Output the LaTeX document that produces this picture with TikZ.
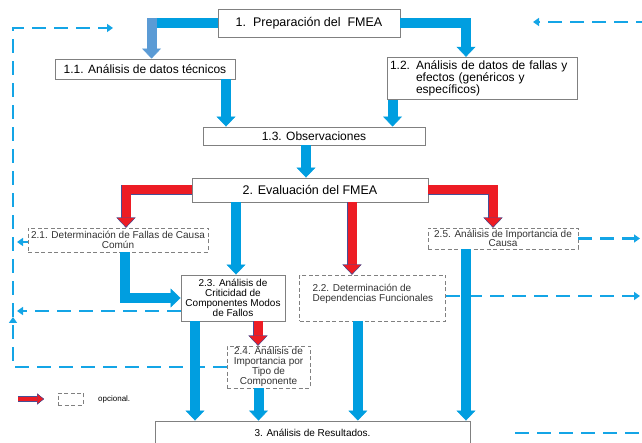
\documentclass[tikz,border=0pt]{standalone}
\usepackage{fontspec}
\setmainfont{Liberation Sans}
\usepackage{xcolor}
\usepackage{tikz}
\usetikzlibrary{arrows.meta, positioning}
\definecolor{fmea-blue}{RGB}{0, 158, 224}
\definecolor{fmea-steel}{RGB}{91, 155, 213}
\definecolor{fmea-red}{RGB}{237, 28, 36}
\definecolor{fmea-rim}{RGB}{70, 80, 150}
\definecolor{fmea-dash}{RGB}{20, 165, 230}
\definecolor{fmea-gray}{RGB}{128, 128, 128}

\begin{document}
\begin{tikzpicture}[
  x=1pt, y=1pt,
  box/.style={rectangle, draw=fmea-gray, line width=0.9pt, fill=white, align=center, inner sep=2pt, font=\fontsize{12}{13}\selectfont},
  optbox/.style={rectangle, draw=fmea-gray, line width=0.8pt, dash pattern=on 4pt off 2.5pt, fill=white, align=center, inner xsep=2pt, inner ysep=1pt, text=black!80, font=\fontsize{10}{10.2}\selectfont},
  bluebar/.style={line width=10pt, draw=fmea-blue, -{Triangle[width=19pt, length=10pt, line width=0.5pt, fill=fmea-blue]}},
  steelbar/.style={line width=10pt, draw=fmea-steel, -{Triangle[width=19pt, length=10pt, line width=0.5pt, fill=fmea-steel]}},
  redbar/.style={line width=9pt, draw=fmea-red, -{Triangle[width=19pt, length=10pt, line width=0.4pt, color=fmea-rim, fill=fmea-red]},
    preaction={draw=fmea-rim, line width=10.4pt, -{Triangle[width=19pt, length=10pt, line width=0.4pt, color=fmea-rim, fill=fmea-red]}}},
  redkey/.style={line width=4.5pt, draw=fmea-red, -{Triangle[width=11pt, length=7pt, line width=0.4pt, color=fmea-rim, fill=fmea-red]},
    preaction={draw=fmea-rim, line width=5.4pt, -{Triangle[width=11pt, length=7pt, line width=0.4pt, color=fmea-rim, fill=fmea-red]}}},
  feedback/.style={draw=fmea-dash, line width=2.5pt, dash pattern=on 14pt off 8pt},
  feedarrow/.style={feedback, -{Triangle[width=8pt, length=6pt]}}
]
  \useasboundingbox (0,0) rectangle (642,443);
  \clip (0,0) rectangle (642,443);

  \node[box, minimum width=182pt, minimum height=28pt, font=\fontsize{12.5}{14}\selectfont] (prep) at (309,420) {1.\ \ Preparación del\ \ FMEA};
  \node[box, minimum width=180pt, minimum height=20pt] (tech) at (145,374) {1.1. Análisis de datos técnicos};
  \node[box, minimum width=190pt, minimum height=37pt, text width=184pt, align=left, inner sep=3pt, font=\fontsize{12}{11}\selectfont] (fails) at (482,364.5)
    {\begin{tabular}{@{}l@{ }l@{}}1.2.&Análisis de datos de fallas y\\ &efectos (genéricos y\\ &específicos)\end{tabular}};
  \node[box, minimum width=222pt, minimum height=18pt] (obs) at (314,307) {1.3. Observaciones};
  \node[box, minimum width=236pt, minimum height=24pt, font=\fontsize{12.5}{14}\selectfont] (eval) at (310,253) {2. Evaluación del FMEA};
  \node[optbox, minimum width=180pt, minimum height=24pt] (common) at (118,203) {2.1. Determinación de Fallas de Causa\\Común};
  \node[optbox, minimum width=150pt, minimum height=21pt, font=\fontsize{10}{9.5}\selectfont, inner ysep=0.5pt] (cause) at (503,204.5) {2.5. Análisis de Importancia de\\Causa};
  \node[box, minimum width=104pt, minimum height=46pt, inner sep=1pt, font=\fontsize{10}{10.2}\selectfont] (crit) at (233,145) {2.3. Análisis de\\Criticidad de\\Componentes Modos\\de Fallos};
  \node[optbox, minimum width=146pt, minimum height=46pt, align=left, right=14pt of crit] (deps) {2.2. Determinación de\\Dependencias Funcionales\\\mbox{}};
  \node[optbox, minimum width=83pt, minimum height=42pt, font=\fontsize{10}{10}\selectfont] (type) at (268.5,76) {2.4. Análisis de\\Importancia por\\Tipo de\\Componente};
  \node[box, minimum width=315pt, minimum height=32pt, text depth=8pt, font=\fontsize{10}{12}\selectfont] (result) at (312.5,6) {3. Análisis de Resultados.};

  \coordinate (loop-mid) at (13,126);
  \coordinate (loop-end) at (113,415);
  \coordinate (right-edge) at (640,0);
  \coordinate (back-a) at (650,421);
  \coordinate (back-b) at (533,421);
  \coordinate (tail-a) at (515,10);
  \coordinate (tail-b) at (650,10);

  \draw[feedarrow] (back-a) -- (back-b);
  \draw[feedarrow] (type.west) -| (loop-mid);
  \draw[feedarrow] (loop-mid) |- (loop-end);
  \draw[feedarrow] ([yshift=-13pt]crit.west) -- ([xshift=4pt, yshift=-13pt]crit.west -| loop-mid);
  \draw[feedarrow] ([yshift=-2pt]common.west) -- ([xshift=4pt, yshift=-2pt]common.west -| loop-mid);
  \draw[feedarrow] (cause.east) -- (cause.east -| right-edge);
  \draw[feedarrow] ([yshift=2pt]deps.east) -- ([yshift=2pt]deps.east -| right-edge);
  \draw[feedback] (tail-a) -- (tail-b);

  \draw[bluebar, -] (prep.west) -- ++(-61,0) coordinate (turn);
  \draw[steelbar] ([xshift=-5pt, yshift=5pt]turn) -- ([xshift=-5pt]turn |- tech.north);
  \draw[bluebar] (prep.east) -| ([xshift=-16pt]fails.north);
  \draw[bluebar] ([xshift=81pt]tech.south) -- ([xshift=81pt]tech.south |- obs.north);
  \draw[bluebar] ([xshift=6pt]fails.south west) -- ([xshift=6pt]fails.south west |- obs.north);
  \draw[bluebar] ([xshift=-8pt]obs.south) -- ([xshift=-8pt]obs.south |- eval.north);
  \draw[redbar] (eval.west) -| ([xshift=8pt]common.north);
  \draw[redbar] (eval.east) -| ([xshift=-10pt]cause.north);
  \draw[bluebar] ([xshift=-74pt]eval.south) -- ([xshift=-74pt]eval.south |- crit.north);
  \draw[redbar] ([xshift=42pt]eval.south) -- ([xshift=42pt]eval.south |- deps.north);
  \draw[bluebar] ([xshift=7pt]common.south) |- (crit.west);
  \draw[redbar] ([xshift=25pt]crit.south) -- ([xshift=25pt]crit.south |- type.north);
  \draw[bluebar] ([xshift=-38pt]crit.south) -- ([xshift=-38pt]crit.south |- result.north);
  \draw[bluebar] ([xshift=-10pt]type.south) -- ([xshift=-10pt]type.south |- result.north);
  \draw[bluebar] ([xshift=-15pt]deps.south) -- ([xshift=-15pt]deps.south |- result.north);
  \draw[bluebar] ([xshift=-37pt]cause.south) -- ([xshift=-37pt]cause.south |- result.north);

  \coordinate (key-a) at (18,44);
  \coordinate (key-b) at (44,44);
  \draw[redkey] (key-a) -- (key-b);
  \node[optbox, minimum width=25pt, minimum height=12pt] (key-box) at (70.5,44) {};
  \node[anchor=west, inner sep=0pt, font=\fontsize{8}{9}\selectfont] (key-text) at (98,44) {opcional.};
\end{tikzpicture}
\end{document}
